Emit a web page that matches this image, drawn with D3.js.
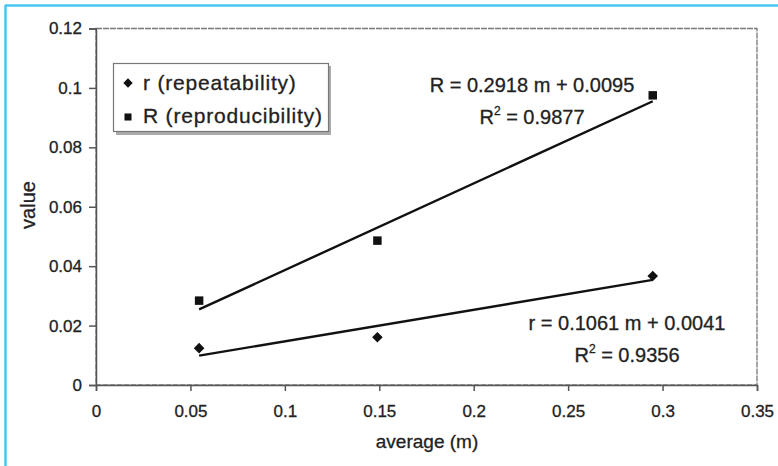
<!DOCTYPE html>
<html><head><meta charset="utf-8">
<script src="https://cdn.jsdelivr.net/npm/d3@7"></script>
<style>body{margin:0;background:#fff;} text{font-family:"Liberation Sans",Arial,sans-serif;fill:#222;stroke:#222;stroke-width:0.3px;}</style>
</head><body>
<svg id="c" width="778" height="466"></svg>
<script>
const xValues = [0.0546, 0.1490, 0.2948];
const rValues = [0.0124, 0.0161, 0.0367];   // r (repeatability)
const RValues = [0.0284, 0.0486, 0.0975];   // R (reproducibility)
const rFit = {slope: 0.1061, intercept: 0.0041, r2: "0.9356", label: "r = 0.1061 m + 0.0041"};
const RFit = {slope: 0.2918, intercept: 0.0095, r2: "0.9877", label: "R = 0.2918 m + 0.0095"};
const xTicks = [0, 0.05, 0.1, 0.15, 0.2, 0.25, 0.3, 0.35];
const yTicks = [0, 0.02, 0.04, 0.06, 0.08, 0.1, 0.12];
const legendLabels = ["r (repeatability)", "R (reproducibility)"];

const svg = d3.select("#c");
// blue frame
svg.append("line").attr("x1",5).attr("x2",778).attr("y1",5.5).attr("y2",5.5).attr("stroke","#45c6f3").attr("stroke-width",2.5);
svg.append("line").attr("x1",5.5).attr("x2",5.5).attr("y1",5).attr("y2",466).attr("stroke","#45c6f3").attr("stroke-width",2.5);

const x = d3.scaleLinear().domain([0,0.35]).range([96,757]);
const y = d3.scaleLinear().domain([0,0.12]).range([385,28.5]);

// plot border
svg.append("rect").attr("x",x(0)).attr("y",y(0.12)).attr("width",x(0.35)-x(0)).attr("height",y(0)-y(0.12))
  .attr("fill","none").attr("stroke","#777").attr("stroke-width",1.3).attr("stroke-dasharray","6,1");

const fmt = d => d===0 ? "0" : d3.format("~g")(d);
const gx = svg.append("g").attr("transform",`translate(0,${y(0)})`)
  .call(d3.axisBottom(x).tickValues(xTicks).tickFormat(fmt).tickSizeOuter(0).tickSize(6).tickPadding(14));
const gy = svg.append("g").attr("transform",`translate(${x(0)},0)`)
  .call(d3.axisLeft(y).tickValues(yTicks).tickFormat(fmt).tickSizeOuter(0).tickSize(7).tickPadding(7));
[gx,gy].forEach(g=>{
  g.selectAll("path,line").attr("stroke","#555").attr("stroke-width",1.5);
  g.selectAll("text").attr("font-size",17).attr("fill","#222").style("font-family","'Liberation Sans',Arial,sans-serif");
});

// axis titles
svg.append("text").attr("x",427).attr("y",448).attr("text-anchor","middle").attr("font-size",19).text("average (m)");
svg.append("text").attr("transform","translate(35,205) rotate(-90)").attr("text-anchor","middle").attr("font-size",20).text("value");

// trend lines
function trend(fit){
  const xs = d3.extent(xValues);
  return xs.map(v=>[x(v), y(fit.slope*v+fit.intercept)]);
}
const line = d3.line();
[RFit, rFit].forEach(f=>{
  svg.append("path").attr("d",line(trend(f))).attr("fill","none").attr("stroke","#111").attr("stroke-width",2.4);
});

const diamondType = {draw(ctx,size){const r=Math.sqrt(size/2);ctx.moveTo(0,-r);ctx.lineTo(r,0);ctx.lineTo(0,r);ctx.lineTo(-r,0);ctx.closePath();}};
const sq = d3.symbol().type(d3.symbolSquare).size(72);
const dm = d3.symbol().type(diamondType).size(56);
svg.selectAll(".sq").data(xValues).join("path").attr("class","sq")
  .attr("d",sq).attr("transform",(d,i)=>`translate(${x(d)},${y(RValues[i])})`).attr("fill","#111");
svg.selectAll(".dm").data(xValues).join("path").attr("class","dm")
  .attr("d",dm).attr("transform",(d,i)=>`translate(${x(d)},${y(rValues[i])})`).attr("fill","#111");

// equation labels
function eq(fit, cx, y1, y2){
  svg.append("text").attr("x",cx).attr("y",y1).attr("text-anchor","middle").attr("font-size",20).text(fit.label);
  const t = svg.append("text").attr("x",cx).attr("y",y2).attr("text-anchor","middle").attr("font-size",20);
  t.append("tspan").text("R");
  t.append("tspan").attr("font-size",12).attr("dy",-9).text("2");
  t.append("tspan").attr("dy",9).text(" = "+fit.r2);
}
eq(RFit, 532, 92, 124);
eq(rFit, 627, 330, 362);

// legend
const lg = svg.append("g");
lg.append("rect").attr("x",116).attr("y",66).attr("width",215).attr("height",69).attr("fill","#aaa");
lg.append("rect").attr("x",113.5).attr("y",63.5).attr("width",215).attr("height",68).attr("fill","#fff").attr("stroke","#777").attr("stroke-width",1.2);
lg.append("path").attr("d",d3.symbol().type(diamondType).size(44)).attr("transform","translate(128,83)").attr("fill","#111");
lg.append("path").attr("d",d3.symbol().type(d3.symbolSquare).size(50)).attr("transform","translate(128,117)").attr("fill","#111");
legendLabels.forEach((l,i)=>{
  lg.append("text").attr("x",143).attr("y",[90,123][i]).attr("font-size",21).attr("letter-spacing",0.8).text(l);
});
</script>
</body></html>
